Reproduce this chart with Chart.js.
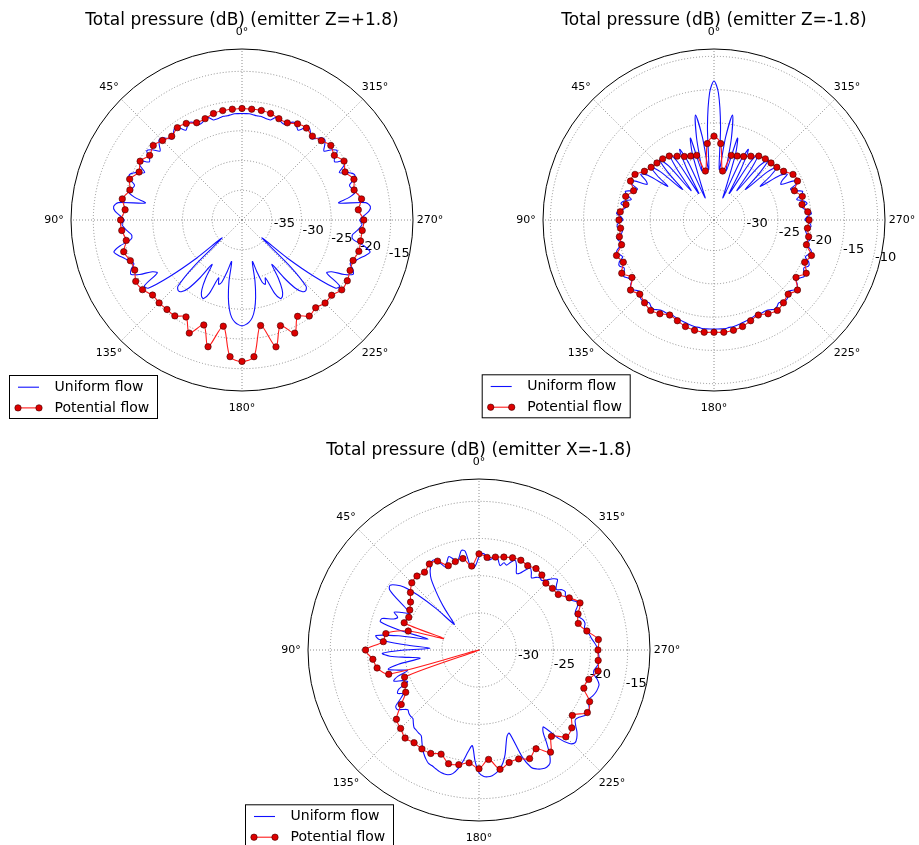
<!DOCTYPE html>
<html>
<head>
<meta charset="utf-8">
<script src="https://cdn.jsdelivr.net/npm/chart.js@4/dist/chart.umd.min.js"></script>
<style>
  html, body { margin: 0; padding: 0; background: #fff; }
  body { width: 919px; height: 845px; position: relative; overflow: hidden; }
  canvas { position: absolute; }
</style>
</head>
<body>
<canvas id="zPlus" width="460" height="425" style="left:0;top:0"></canvas>
<canvas id="zMinus" width="459" height="425" style="left:460px;top:0"></canvas>
<canvas id="xMinus" width="480" height="415" style="left:230px;top:430px"></canvas>
<script>
// Angle ticks (degrees, counter-clockwise from the top)
const angleTicks = [0, 45, 90, 135, 180, 225, 270, 315];
const seriesNames = ['Uniform flow', 'Potential flow'];

// ---- emitter Z=+1.8 ----
const zPlusTitle = 'Total pressure (dB) (emitter Z=+1.8)';
const zPlusRTicks = [-35, -30, -25, -20, -15];
// uniform flow, every 2 deg from 0 to 358
const zPlusUniform = [
  -22.1,-22.1,-22.1,-22.2,-22.3,-22.3,-22.4,-22.5,-22.5,-21.9,-21.8,-22.3,-22.4,-21.8,-21.4,-21.7,-22.2,-21.4,-20.8,-21.3,
  -22.1,-21.6,-20.8,-20.6,-21.3,-22.0,-20.8,-20.2,-21.2,-21.6,-20.0,-20.6,-21.8,-20.4,-19.6,-19.9,-21.0,-20.8,-20.3,-21.5,
  -23.5,-19.0,-18.3,-18.6,-19.5,-20.2,-19.8,-20.2,-20.8,-21.3,-21.0,-19.0,-17.8,-18.4,-19.2,-19.8,-20.4,-19.6,-19.2,-20.5,
  -22.6,-23.2,-20.2,-20.5,-24.5,-30.0,-35.5,-28.5,-24.5,-24.0,-24.3,-25.5,-28.0,-31.0,-28.5,-26.5,-25.5,-25.3,-26.5,-29.5,
  -28.5,-29.0,-31.0,-32.8,-29.5,-26.8,-24.8,-23.5,-22.8,-22.4,-22.2,-22.4,-22.8,-23.5,-24.8,-26.8,-29.5,-32.8,-31.0,-29.0,
  -28.5,-29.5,-26.5,-25.3,-25.5,-26.5,-28.5,-31.0,-28.0,-25.5,-24.3,-24.0,-24.5,-28.5,-35.5,-30.0,-24.5,-20.5,-20.2,-23.2,
  -22.6,-20.5,-19.2,-19.6,-20.4,-19.8,-19.2,-18.4,-17.8,-19.0,-21.0,-21.3,-20.8,-20.2,-19.8,-20.2,-19.5,-18.6,-18.3,-19.0,
  -23.5,-21.5,-20.3,-20.8,-21.0,-19.9,-19.6,-20.4,-21.8,-20.6,-20.0,-21.6,-21.2,-20.2,-20.8,-22.0,-21.3,-20.6,-20.8,-21.6,
  -22.1,-21.3,-20.8,-21.4,-22.2,-21.7,-21.4,-21.8,-22.4,-22.3,-21.8,-21.9,-22.5,-22.5,-22.4,-22.3,-22.3,-22.2,-22.1,-22.1
];
// potential flow, every 5 deg from 0 to 355
const zPlusPotential = [
  -21.25,-21.30,-21.32,-21.47,-21.87,-21.96,-21.25,-21.05,-21.62,-21.10,-20.52,-21.05,
  -20.22,-20.91,-19.90,-20.49,-19.56,-20.27,-19.59,-19.71,-20.24,-19.41,-20.02,-20.10,
  -19.37,-19.58,-20.37,-20.29,-20.37,-20.32,-21.18,-19.02,-21.22,-17.94,-21.87,-16.94,
  -16.23,-16.93,-21.98,-17.92,-21.10,-19.02,-21.30,-20.29,-20.73,-20.25,-20.32,-19.53,
  -19.56,-19.95,-20.12,-19.66,-19.76,-19.71,-19.51,-20.37,-19.59,-20.49,-19.97,-20.88,
  -20.19,-21.05,-20.51,-21.13,-21.59,-21.13,-21.33,-21.98,-21.87,-21.45,-21.30,-21.30
];
const zPlusPotentialExtra = [];

// ---- emitter Z=-1.8 ----
const zMinusTitle = 'Total pressure (dB) (emitter Z=-1.8)';
const zMinusRTicks = [-30, -25, -20, -15, -10];
const zMinusUniform = [
  -13.7,-15.5,-20.5,-27.0,-22.0,-18.6,-22.0,-27.0,-21.8,-24.0,-29.0,-31.0,-25.0,-22.8,-26.0,-30.0,-24.5,-22.6,-25.0,-29.0,
  -24.0,-22.4,-24.5,-28.0,-23.8,-22.2,-23.8,-26.0,-22.6,-21.6,-22.8,-23.2,-21.2,-20.8,-22.2,-21.8,-20.6,-21.0,-21.8,-20.8,
  -20.4,-21.2,-20.6,-19.9,-20.6,-20.9,-20.2,-20.0,-20.7,-20.6,-19.8,-19.9,-20.5,-19.8,-19.2,-19.5,-19.8,-19.0,-18.8,-19.3,
  -19.0,-18.6,-19.0,-19.3,-18.7,-18.4,-18.8,-19.1,-18.6,-18.4,-18.6,-18.8,-18.5,-18.4,-18.7,-18.9,-18.9,-18.9,-19.0,-18.9,
  -18.8,-18.7,-18.6,-18.5,-18.4,-18.3,-18.3,-18.2,-18.2,-18.2,-18.2,-18.2,-18.2,-18.2,-18.3,-18.3,-18.4,-18.5,-18.6,-18.7,
  -18.8,-18.9,-19.0,-18.9,-18.9,-18.9,-18.7,-18.4,-18.5,-18.8,-18.6,-18.4,-18.6,-19.1,-18.8,-18.4,-18.7,-19.3,-19.0,-18.6,
  -19.0,-19.3,-18.8,-19.0,-19.8,-19.5,-19.2,-19.8,-20.5,-19.9,-19.8,-20.6,-20.7,-20.0,-20.2,-20.9,-20.6,-19.9,-20.6,-21.2,
  -20.4,-20.8,-21.8,-21.0,-20.6,-21.8,-22.2,-20.8,-21.2,-23.2,-22.8,-21.6,-22.6,-26.0,-23.8,-22.2,-23.8,-28.0,-24.5,-22.4,
  -24.0,-29.0,-25.0,-22.6,-24.5,-30.0,-26.0,-22.8,-25.0,-31.0,-29.0,-24.0,-21.8,-27.0,-22.0,-18.6,-22.0,-27.0,-20.5,-15.5
];
const zMinusPotential = [
  -22.00,-23.07,-27.13,-24.54,-24.37,-24.07,-23.52,-22.87,-22.60,-22.48,-22.27,-21.83,
  -20.89,-20.75,-21.74,-20.86,-21.17,-20.46,-20.31,-20.51,-20.16,-20.22,-19.01,-19.56,
  -18.59,-19.55,-18.22,-18.83,-18.36,-18.01,-18.33,-18.84,-18.49,-18.03,-17.77,-17.67,
  -17.73,-17.67,-17.77,-18.03,-18.49,-18.84,-18.33,-18.01,-18.36,-18.83,-18.22,-19.55,
  -18.59,-19.56,-19.01,-20.22,-20.16,-20.51,-20.31,-20.46,-21.17,-20.86,-21.74,-20.75,
  -20.89,-21.83,-22.27,-22.48,-22.60,-22.87,-23.52,-24.07,-24.37,-24.54,-27.13,-23.07
];
const zMinusPotentialExtra = [];

// ---- emitter X=-1.8 ----
const xMinusTitle = 'Total pressure (dB) (emitter X=-1.8)';
const xMinusRTicks = [-30, -25, -20, -15];
const xMinusUniform = [
  -22.5,-23.5,-24.0,-23.6,-21.6,-21.4,-22.2,-22.8,-22.2,-21.8,-22.4,-23.0,-22.2,-21.5,-21.5,-22.0,-22.6,-23.5,-25.0,-26.5,
  -28.0,-29.5,-30.2,-27.0,-24.0,-21.8,-20.8,-20.2,-20.5,-22.0,-23.5,-24.5,-23.5,-22.5,-23.2,-22.8,-21.3,-21.2,-24.0,-28.0,
  -24.0,-21.0,-21.5,-25.0,-28.4,-25.0,-22.0,-23.0,-25.5,-27.0,-24.0,-22.5,-23.8,-25.0,-23.5,-22.8,-24.0,-24.5,-23.0,-22.6,
  -23.2,-22.5,-21.5,-21.4,-22.0,-22.5,-22.3,-22.2,-22.2,-21.8,-21.4,-21.3,-21.2,-21.1,-20.5,-19.8,-19.2,-18.7,-18.3,-18.2,
  -18.0,-17.8,-17.7,-17.7,-18.0,-18.8,-20.0,-21.3,-22.1,-20.0,-18.5,-18.0,-17.9,-18.0,-18.3,-18.8,-19.5,-20.5,-21.8,-22.8,
  -23.1,-19.5,-17.7,-17.2,-16.9,-16.8,-17.0,-18.0,-19.5,-21.0,-21.5,-19.0,-17.5,-17.05,-17.3,-17.8,-18.5,-19.0,-18.8,-18.3,
  -18.0,-18.2,-18.6,-18.8,-18.5,-18.3,-18.2,-18.2,-18.6,-19.2,-19.3,-19.0,-18.8,-18.8,-18.9,-19.0,-19.2,-19.5,-19.8,-20.0,
  -20.3,-20.5,-20.3,-20.4,-20.8,-21.2,-21.0,-20.5,-20.3,-20.8,-21.2,-21.3,-21.0,-21.2,-21.8,-21.4,-20.8,-21.2,-21.9,-22.4,
  -22.3,-22.6,-23.0,-22.4,-22.0,-22.6,-23.3,-23.5,-22.6,-22.0,-22.4,-23.0,-22.8,-23.3,-22.6,-22.0,-22.6,-22.8,-22.2,-22.0
];
const xMinusPotential = [
  -22.07,-23.67,-22.51,-22.69,-22.93,-21.81,-21.64,-22.22,-22.02,-22.22,-22.96,-23.76,
  -24.25,-24.58,-24.29,-25.15,-22.28,-22.08,-19.74,-20.67,-21.08,-22.43,-24.35,-23.94,
  -23.62,-22.23,-20.50,-20.09,-19.54,-19.77,-19.64,-19.65,-20.09,-19.17,-19.34,-19.76,
  -19.03,-20.23,-18.71,-19.33,-19.41,-18.88,-19.66,-18.23,-19.84,-18.48,-18.71,-19.68,
  -18.17,-18.58,-19.99,-19.72,-18.75,-18.91,-19.00,-18.88,-20.27,-21.18,-20.82,-20.01,
  -20.98,-21.98,-22.10,-22.28,-21.84,-21.63,-21.90,-21.68,-21.80,-22.06,-22.31,-22.50
];
// line-only samples between the markers: [angle, dB]
const xMinusPotentialExtra = [[72, -30.0], [107, -35.0]];

// Chart.js radar goes clockwise; these plots go counter-clockwise.
const indexOfTheta = th => (360 - th) % 360;
const thetaOfIndex = i => (360 - i) % 360;

function toRadar(values, step, extra) {
  const out = new Array(360).fill(null);
  values.forEach((v, k) => { out[indexOfTheta(k * step)] = v; });
  (extra || []).forEach(([th, v]) => { out[indexOfTheta(th)] = v; });
  return out;
}

Chart.defaults.font.family = '"DejaVu Sans", sans-serif';
Chart.defaults.color = '#000';

// angle labels, radius labels and the framed legend
const polarText = {
  id: 'polarText',
  beforeDatasetsDraw(chart, args, o) {
    const s = chart.scales.r, ctx = chart.ctx;
    ctx.save();
    ctx.fillStyle = '#000';
    ctx.font = '13px "DejaVu Sans"';
    ctx.textAlign = 'left';
    ctx.textBaseline = 'alphabetic';
    o.rTicks.forEach(v => {
      const p = s.getPointPosition(o.rLabelIndex, s.getDistanceFromCenterForValue(v));
      ctx.fillText(String(v), p.x + 3, p.y - 1);
    });
    ctx.font = '11px "DejaVu Sans"';
    ctx.textAlign = 'center';
    ctx.textBaseline = 'middle';
    angleTicks.forEach(a => {
      const p = s.getPointPosition(indexOfTheta(a), s.drawingArea + 17);
      ctx.fillText(a + '\u00b0', p.x, p.y);
    });
    ctx.restore();
  },
  afterDraw(chart, args, o) {
    const ctx = chart.ctx, L = o.legend;
    ctx.save();
    ctx.fillStyle = '#fff';
    ctx.fillRect(L.x, L.y, L.w, L.h);
    ctx.strokeStyle = '#000';
    ctx.lineWidth = 1;
    ctx.strokeRect(L.x + 0.5, L.y + 0.5, L.w, L.h);
    chart.data.datasets.forEach((ds, k) => {
      const y = L.y + 12.2 + k * 20.7;
      ctx.strokeStyle = ds.borderColor;
      ctx.lineWidth = ds.borderWidth;
      ctx.beginPath();
      ctx.moveTo(L.x + 9, y);
      ctx.lineTo(L.x + 30, y);
      ctx.stroke();
      if (ds.legendMarker) {
        [L.x + 9, L.x + 30].forEach(mx => {
          ctx.beginPath();
          ctx.arc(mx, y, 3.2, 0, Math.PI * 2);
          ctx.fillStyle = ds.pointBackgroundColor;
          ctx.fill();
          ctx.lineWidth = ds.pointBorderWidth;
          ctx.strokeStyle = ds.pointBorderColor;
          ctx.stroke();
        });
      }
      ctx.fillStyle = '#000';
      ctx.font = '14px "DejaVu Sans"';
      ctx.textAlign = 'left';
      ctx.textBaseline = 'middle';
      ctx.fillText(ds.label, L.x + 45.6, y);
    });
    ctx.restore();
  }
};

function polarChart(id, cfg) {
  const labels = Array.from({ length: 360 }, (_, i) => String(thetaOfIndex(i)));
  const rmax = cfg.max;
  return new Chart(document.getElementById(id), {
    type: 'radar',
    data: {
      labels,
      datasets: [
        {
          label: seriesNames[0],
          data: toRadar(cfg.uniform, 2),
          borderColor: '#1010ff',
          borderWidth: 1.1,
          pointRadius: 0,
          tension: 0.3,
          spanGaps: true,
          fill: false,
          order: 2
        },
        {
          label: seriesNames[1],
          data: toRadar(cfg.potential, 5, cfg.extra),
          borderColor: '#ff1a1a',
          borderWidth: 1.1,
          pointRadius: c => (thetaOfIndex(c.dataIndex) % 5 === 0 ? 3.2 : 0),
          pointBackgroundColor: '#dd0000',
          pointBorderColor: '#400000',
          pointBorderWidth: 0.6,
          legendMarker: true,
          tension: 0.3,
          spanGaps: true,
          fill: false,
          order: 1
        }
      ]
    },
    options: {
      responsive: false,
      animation: false,
      events: [],
      layout: { padding: cfg.padding },
      plugins: {
        legend: { display: false },
        tooltip: { enabled: false },
        title: {
          display: true,
          text: cfg.title,
          font: { size: 17, weight: 'normal' },
          color: '#000',
          padding: { top: 10.6, bottom: 18 }
        },
        polarText: { rTicks: cfg.rTicks, rLabelIndex: 105, legend: cfg.legend }
      },
      scales: {
        r: {
          min: cfg.min,
          max: rmax,
          startAngle: 0,
          afterBuildTicks: s => { s.ticks = cfg.rTicks.concat([rmax]).map(v => ({ value: v })); },
          ticks: { display: false },
          pointLabels: { display: false },
          grid: {
            circular: true,
            lineWidth: 1,
            color: c => (c.tick && c.tick.value === rmax ? '#000' : '#8c8c8c')
          },
          border: { dash: c => (c.tick && c.tick.value === rmax ? [] : [1, 2]) },
          angleLines: {
            color: '#8c8c8c',
            lineWidth: c => (angleTicks.includes(thetaOfIndex(c.index)) ? 1 : 0),
            borderDash: [1, 2]
          }
        }
      }
    },
    plugins: [polarText]
  });
}

polarChart('zPlus', {
  title: zPlusTitle, rTicks: zPlusRTicks, min: -40, max: -11.25,
  uniform: zPlusUniform, potential: zPlusPotential, extra: zPlusPotentialExtra,
  padding: { left: 71, right: 47, top: 0, bottom: 34 },
  legend: { x: 9, y: 375, w: 148, h: 43 }
});
polarChart('zMinus', {
  title: zMinusTitle, rTicks: zMinusRTicks, min: -34.6, max: -8.9,
  uniform: zMinusUniform, potential: zMinusPotential, extra: zMinusPotentialExtra,
  padding: { left: 83, right: 34, top: 0, bottom: 34 },
  legend: { x: 21.7, y: 374.3, w: 148, h: 43 }
});
polarChart('xMinus', {
  title: xMinusTitle, rTicks: xMinusRTicks, min: -35, max: -12,
  uniform: xMinusUniform, potential: xMinusPotential, extra: xMinusPotentialExtra,
  padding: { left: 78, right: 60, top: 0, bottom: 24 },
  legend: { x: 15, y: 374.3, w: 148, h: 43 }
});
</script>
</body>
</html>
